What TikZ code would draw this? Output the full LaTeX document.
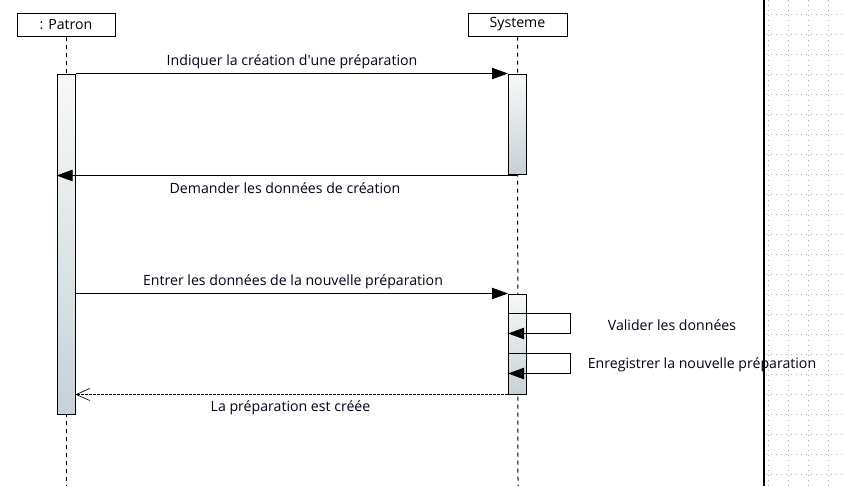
\documentclass[tikz,border=0pt]{standalone}
\usepackage{fontspec}
\setmainfont{Open Sans}
\usetikzlibrary{arrows.meta,calc}
\definecolor{barbot}{RGB}{198,210,215}
\definecolor{bartop}{RGB}{248,249,249}
\definecolor{gridc}{RGB}{175,175,175}
\tikzset{
  objbox/.style={draw, line width=0.75pt, fill=white, inner sep=0pt, minimum height=17.25pt, font=\fontsize{10.6pt}{12pt}\selectfont},
  lifeline/.style={line width=0.75pt, dash pattern=on 3pt off 3pt},
  actbar/.style={draw, line width=0.75pt, top color=bartop, bottom color=barbot, minimum width=13.5pt, inner sep=0pt},
  msg/.style={line width=0.75pt, -{Triangle[length=12pt,width=8.5pt]}},
  ret/.style={line width=0.6pt, dash pattern=on 2pt off 1pt, -{Straight Barb[length=10pt,width=9pt,line width=0.5pt]}},
  selfmsg/.style={line width=0.75pt, -{Triangle[length=12pt,width=8.5pt]}},
  lbl/.style={inner sep=0pt, font=\fontsize{10.6pt}{12pt}\selectfont, text=black!90!blue},
}
\begin{document}
\begin{tikzpicture}[x=0.75pt,y=-0.75pt]
\useasboundingbox (0,0) rectangle (845,486);
% grid on the right
\foreach \yy in {14,34,...,486} \draw[gridc, line width=0.5pt, dash pattern=on 0.75pt off 3pt] (766,\yy) -- (845,\yy);
\foreach \xx in {768,788,808,828} \draw[gridc, line width=0.5pt, dash pattern=on 0.75pt off 3pt] (\xx,0) -- (\xx,486);
\draw[line width=1.5pt] (764,0) -- (764,486);
% objects
\node[objbox, minimum width=73.5pt] (patron) at (66,24.5) {: Patron};
\node[objbox, minimum width=74.25pt] (systeme) at (517.5,24.5) {Systeme};
\coordinate (pend) at (66,486);
\coordinate (send) at (518,486);
\draw[lifeline] (patron.south) -- (pend);
\draw[lifeline] (systeme.south) -- (send);
% activation bars
\node[actbar, minimum height=255pt] (pa) at (66,244) {};
\node[actbar, minimum height=75pt] (s1) at (517.5,124) {};
\node[actbar, minimum height=75pt] (s2) at (517.5,344) {};
% messages
\draw[msg] (pa.north east) -- (s1.north west);
\coordinate (m2s) at ($(s1.south)+(0,1)$);
\coordinate (m2e) at (m2s -| pa.west);
\draw[msg] (m2s) -- (m2e);
\draw[msg] (s2.north west -| pa.east) -- (s2.north west);
% self messages
\coordinate (v1) at ($(s2.north west)+(0,20)$);
\coordinate (v2) at ($(v1)+(62,0)$);
\coordinate (v3) at ($(v2)+(0,20)$);
\coordinate (v4) at ($(v1)+(0,20)$);
\draw[selfmsg] (v1) -- (v2) -- (v3) -- (v4);
\coordinate (w1) at ($(s2.north west)+(0,60)$);
\coordinate (w2) at ($(w1)+(62,0)$);
\coordinate (w3) at ($(w2)+(0,20)$);
\coordinate (w4) at ($(w1)+(0,20)$);
\draw[selfmsg] (w1) -- (w2) -- (w3) -- (w4);
% return
\draw[ret] (s2.south west) -- (s2.south west -| pa.east);
% labels
\node[lbl] (l1) at (292,62) {Indiquer la création d\textquotesingle une préparation};
\node[lbl] (l2) at (285,188) {Demander les données de création};
\node[lbl] (l3) at (293,282) {Entrer les données de la nouvelle préparation};
\node[lbl] (l4) at (672,325) {Valider les données};
\node[lbl] (l5) at (702,365) {Enregistrer la nouvelle préparation};
\node[lbl] (l6) at (290.5,408) {La préparation est créée};
\end{tikzpicture}
\end{document}
